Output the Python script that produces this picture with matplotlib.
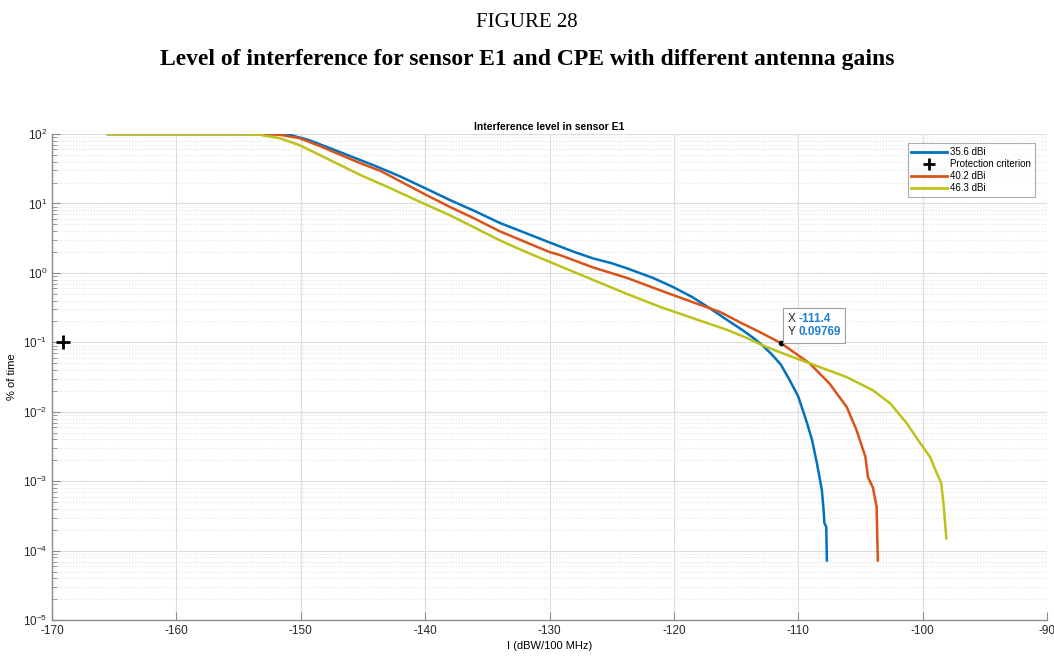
import matplotlib.pyplot as plt
from matplotlib.lines import Line2D
from matplotlib.ticker import LogLocator, NullFormatter

# values (x in dBW/100 MHz, y in % of time)
gain_labels = ["35.6 dBi", "40.2 dBi", "46.3 dBi"]

x_356 = [-165.5, -152, -150.9, -149.3, -147.7, -146, -144, -142, -140, -138, -136, -134, -132,
         -130, -128, -126.5, -125, -123.8, -121.7, -120.1, -118.5, -117.1, -115.7, -114.5,
         -113.5, -112.9, -112.2, -111.4, -110.7, -110.0, -109.3, -108.9, -108.5, -108.1,
         -107.95, -107.9, -107.75, -107.7]
y_356 = [100, 100, 97.7, 81.3, 63.1, 47.9, 34.7, 24.5, 16.6, 11.2, 7.76, 5.25, 3.80,
         2.75, 2.00, 1.62, 1.38, 1.17, 0.851, 0.631, 0.447, 0.309, 0.209, 0.151,
         0.112, 0.0912, 0.0692, 0.0479, 0.0288, 0.0166, 0.00692, 0.00398, 0.00182, 0.000741,
         0.000355, 0.000251, 0.000219, 0.0000724]

x_402 = [-165.5, -153, -151.7, -150.1, -148.5, -146.8, -145.2, -143.6, -142, -140, -138, -136,
         -134, -132, -130, -129.2, -126.5, -123.8, -121.1, -118.5, -116.3, -114.7, -113.1,
         -111.4, -109.1, -107.5, -106.1, -105.3, -104.6, -104.4, -104.0, -103.7, -103.65, -103.6]
y_402 = [100, 100, 97.7, 87.1, 67.6, 50.1, 38.0, 29.5, 20.9, 13.5, 8.91, 6.03,
         3.98, 2.82, 2.00, 1.82, 1.20, 0.851, 0.562, 0.380, 0.275, 0.195, 0.141,
         0.0977, 0.0501, 0.0257, 0.0117, 0.00537, 0.00224, 0.00115, 0.000813, 0.000427,
         0.000158, 0.0000724]

x_463 = [-165.5, -155, -153.3, -151.7, -150.1, -148.5, -146.8, -145.2, -142.8, -140, -138,
         -136, -134, -132, -129.2, -126.5, -123.8, -121.1, -118.5, -115.7, -114.1, -112.9,
         -111.5, -109.1, -106.1, -104.0, -102.6, -101.3, -100.2, -99.4, -98.9, -98.5, -98.3,
         -98.1]
y_463 = [100, 100, 97.7, 87.1, 69.2, 50.1, 35.5, 25.7, 16.6, 9.77, 6.76,
         4.47, 2.95, 2.04, 1.26, 0.794, 0.501, 0.324, 0.224, 0.151, 0.115, 0.0912,
         0.0724, 0.0501, 0.0316, 0.0204, 0.0132, 0.00692, 0.00355, 0.00224, 0.00135, 0.000933,
         0.000427, 0.000151]

criterion_x = [-169.1]
criterion_y = [0.1]

tip_x = -111.4
tip_y = 0.09769

COLORS = ["#0072BD", "#D95319", "#BDC21A"]
SANS = ["Liberation Sans", "DejaVu Sans"]
SERIF = ["Liberation Serif", "DejaVu Serif"]

plt.rcParams["axes.unicode_minus"] = False
plt.rcParams["mathtext.fontset"] = "custom"
plt.rcParams["mathtext.rm"] = "Liberation Sans"
plt.rcParams["mathtext.it"] = "Liberation Sans:italic"
plt.rcParams["mathtext.bf"] = "Liberation Sans:bold"


def main():
    fig = plt.figure(figsize=(10.54, 6.57), dpi=100)
    ax = fig.add_axes([0.0493, 0.056, 0.9441, 0.740])

    fig.text(0.5, 0.966, "FIGURE 28", ha="center", va="center", family=SERIF, fontsize=15)
    fig.text(0.5, 0.909, "Level of interference for sensor E1 and CPE with different antenna gains",
             ha="center", va="center", family=SERIF, fontsize=17, fontweight="bold")

    series = [(x_356, y_356), (x_402, y_402), (x_463, y_463)]
    for (xs, ys), color in zip(series, COLORS):
        ax.plot(xs, ys, color=color, lw=1.8, solid_joinstyle="round")
    ax.plot(criterion_x, criterion_y, ls="none", marker="+", ms=10, mew=2.0, color="black")

    ax.set_yscale("log")
    ax.set_xlim(-170, -90)
    ax.set_ylim(1e-5, 1e2)
    ax.set_xticks(range(-170, -89, 10))
    ax.yaxis.set_minor_locator(LogLocator(base=10, subs=range(2, 10), numticks=20))
    ax.yaxis.set_minor_formatter(NullFormatter())

    ax.grid(True, which="major", color="#dcdcdc", lw=0.8)
    ax.grid(True, which="minor", axis="y", color="#e4e4e4", lw=0.8, ls=":")
    ax.set_axisbelow(True)

    for side in ["top", "right"]:
        ax.spines[side].set_visible(False)
    for side in ["left", "bottom"]:
        ax.spines[side].set_color("#8c8c8c")
        ax.spines[side].set_linewidth(1.0)
    ax.tick_params(which="major", direction="in", length=6, color="#8c8c8c",
                   labelsize=8.5, labelcolor="#262626")
    ax.tick_params(which="minor", direction="in", length=3.5, color="#8c8c8c")
    for lab in ax.get_xticklabels() + ax.get_yticklabels():
        lab.set_family(SANS)

    ax.set_title("Interference level in sensor E1", family=SANS, fontsize=7.5,
                 fontweight="bold", pad=3)
    ax.set_xlabel("I (dBW/100 MHz)", family=SANS, fontsize=8, labelpad=3)
    ax.set_ylabel("% of time", family=SANS, fontsize=8, labelpad=4)

    handles = [
        Line2D([], [], color=COLORS[0], lw=2),
        Line2D([], [], ls="none", marker="+", ms=8, mew=2, color="black"),
        Line2D([], [], color=COLORS[1], lw=2),
        Line2D([], [], color=COLORS[2], lw=2),
    ]
    labels = [gain_labels[0], "Protection criterion", gain_labels[1], gain_labels[2]]
    leg = ax.legend(handles, labels, loc="upper right", bbox_to_anchor=(0.99, 0.985),
                    prop={"family": SANS, "size": 7}, frameon=True, fancybox=False,
                    edgecolor="#999999", handlelength=3.7, handletextpad=0.3,
                    labelspacing=0.2, borderpad=0.4, borderaxespad=0.2)
    leg.get_frame().set_linewidth(0.8)

    # data tip
    ax.plot([tip_x], [tip_y], "o", ms=3, color="black", zorder=5)
    tip_full = f"X {tip_x:.1f}\nY {tip_y:.5f}"
    ax.annotate(tip_full, (tip_x, tip_y), xytext=(4.8, 3.4), textcoords="offset points",
                ha="left", va="bottom", family=SANS, fontsize=8.5, fontweight="bold",
                color="none",
                bbox=dict(boxstyle="square,pad=0.4", fc="white", ec="#a0a0a0", lw=0.8),
                zorder=6)
    ax.annotate("X\nY", (tip_x, tip_y), xytext=(4.8, 3.4), textcoords="offset points",
                ha="left", va="bottom", family=SANS, fontsize=8.5, color="#262626", zorder=7)
    ax.annotate(f"{tip_x:.1f}\n{tip_y:.5f}", (tip_x, tip_y), xytext=(12.8, 3.4),
                textcoords="offset points", ha="left", va="bottom", family=SANS,
                fontsize=8.5, fontweight="bold", color="#1f7fd0", zorder=7)

    fig.savefig("out.png", dpi=100)
    plt.close(fig)


if __name__ == "__main__":
    main()
